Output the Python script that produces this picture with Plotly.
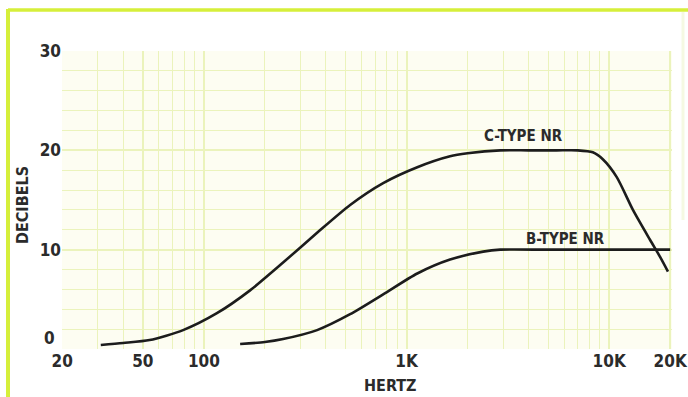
import plotly.graph_objects as go

# ---- data ----
c_freq = [31, 40, 54, 79, 116, 169, 246, 362, 527, 767, 1130, 1640, 2000, 2900,
          4000, 5500, 7000, 8300, 9300, 10900, 13100, 15900, 17800, 19500]
c_db = [0.4, 0.6, 0.9, 1.9, 3.6, 5.9, 8.7, 11.7, 14.5, 16.7, 18.3, 19.4, 19.7, 20.0,
        20.0, 20.0, 20.0, 19.8, 19.1, 17.3, 14.0, 11.0, 9.3, 7.8]

b_freq = [151, 200, 246, 362, 527, 767, 1130, 1640, 2390, 2900, 5000, 10000, 20000]
b_db = [0.5, 0.7, 1.0, 1.9, 3.5, 5.5, 7.6, 9.0, 9.8, 10.0, 10.0, 10.0, 10.0]

x_tick_vals = [20, 50, 100, 1000, 10000, 20000]
x_tick_text = ["20", "50", "100", "1K", "10K", "20K"]
y_tick_vals = [10, 20, 30]
y_tick_text = ["10", "20", "30"]
y_zero_label = "0"

c_label = "C-TYPE NR"
b_label = "B-TYPE NR"
x_title = "HERTZ"
y_title = "DECIBELS"

# minor grid positions on the log axis
x_minor = [m * d for d in (10, 100, 1000, 10000) for m in range(1, 10)
           if 20 <= m * d <= 20000]

FONT = "DejaVu Sans Condensed, Liberation Sans Narrow, Arial Narrow, sans-serif"
INK = "#2b2b2b"
GRID = "#ebf3bc"
BORDER = "#d6ef3a"

W, H = 688, 397
ML, MR, MT, MB = 62, 16, 51, 48
PW, PH = W - ML - MR, H - MT - MB


def px(xp):
    return (xp - ML) / PW


def py(yp):
    return (H - MB - yp) / PH


fig = go.Figure()
fig.add_trace(go.Scatter(x=c_freq, y=c_db, mode="lines",
                         line=dict(color="#1c1c1c", width=2.6, shape="spline", smoothing=0.7),
                         hoverinfo="skip", showlegend=False))
fig.add_trace(go.Scatter(x=b_freq, y=b_db, mode="lines",
                         line=dict(color="#1c1c1c", width=2.6, shape="spline", smoothing=0.7),
                         hoverinfo="skip", showlegend=False))

fig.update_xaxes(type="log", range=[1.30, 4.31], automargin=False,
                 tickmode="array", tickvals=x_tick_vals, ticktext=x_tick_text,
                 showgrid=True, gridcolor=GRID, gridwidth=1.5,
                 minor=dict(tickmode="array", tickvals=x_minor, showgrid=True,
                            gridcolor=GRID, gridwidth=1.2),
                 showline=False, zeroline=False, ticks="",
                 tickfont=dict(family=FONT, size=17, color=INK, weight="bold"))
fig.update_yaxes(range=[0, 30], automargin=False,
                 tickmode="array", tickvals=y_tick_vals, ticktext=y_tick_text,
                 showgrid=True, gridcolor=GRID, gridwidth=1.5,
                 minor=dict(dtick=2, showgrid=True, gridcolor=GRID, gridwidth=1.2),
                 showline=False, zeroline=False, ticks="",
                 tickfont=dict(family=FONT, size=17, color=INK, weight="bold"))

annos = [
    dict(x=3.575, y=21.4, xref="x", yref="y", text=c_label, showarrow=False,
         xanchor="center", yanchor="middle",
         font=dict(family=FONT, size=15, color=INK, weight="bold")),
    dict(x=3.782, y=11.1, xref="x", yref="y", text=b_label, showarrow=False,
         xanchor="center", yanchor="middle",
         font=dict(family=FONT, size=15, color=INK, weight="bold")),
    dict(x=px(57), y=1.1, xref="paper", yref="y", text=y_zero_label, showarrow=False,
         xanchor="right", yanchor="middle",
         font=dict(family=FONT, size=17, color=INK, weight="bold")),
    dict(x=px(390), y=py(385), xref="paper", yref="paper", text=x_title, showarrow=False,
         xanchor="center", yanchor="middle",
         font=dict(family=FONT, size=16, color=INK, weight="bold")),
    dict(x=px(22), y=py(205), xref="paper", yref="paper", text=y_title, showarrow=False,
         textangle=-90, xanchor="center", yanchor="middle",
         font=dict(family=FONT, size=16, color=INK, weight="bold")),
]

shapes = [
    dict(type="line", xref="paper", yref="paper", x0=px(8), x1=px(688), y0=py(10), y1=py(10),
         line=dict(color=BORDER, width=3.5), layer="above"),
    dict(type="line", xref="paper", yref="paper", x0=px(8), x1=px(8), y0=py(9), y1=py(397),
         line=dict(color=BORDER, width=4), layer="above"),
    dict(type="line", xref="paper", yref="paper", x0=px(683), x1=px(683), y0=py(12), y1=py(220),
         line=dict(color="#f5f9e2", width=3), layer="above"),
]

fig.update_layout(width=W, height=H,
                  margin=dict(l=ML, r=MR, t=MT, b=MB),
                  paper_bgcolor="#ffffff", plot_bgcolor="#fdfdf2",
                  annotations=annos, shapes=shapes, showlegend=False)

fig.write_html("out.html", config={"displayModeBar": False},
               post_script="document.body.style.margin='0';document.body.style.overflow='hidden';")
